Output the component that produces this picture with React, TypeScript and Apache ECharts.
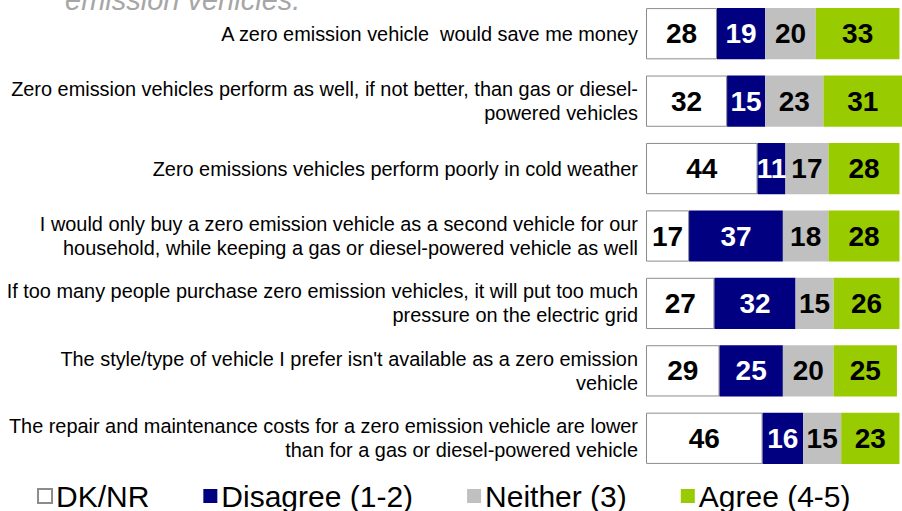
import React, { useEffect, useRef } from "react";
import * as echarts from "echarts";

const categories = [
  "A zero emission vehicle  would save me money",
  "Zero emission vehicles perform as well, if not better, than gas or diesel-\npowered vehicles",
  "Zero emissions vehicles perform poorly in cold weather",
  "I would only buy a zero emission vehicle as a second vehicle for our\nhousehold, while keeping a gas or diesel-powered vehicle as well",
  "If too many people purchase zero emission vehicles, it will put too much\npressure on the electric grid",
  "The style/type of vehicle I prefer isn't available as a zero emission\nvehicle",
  "The repair and maintenance costs for a zero emission vehicle are lower\nthan for a gas or diesel-powered vehicle",
];

const dknr = [28, 32, 44, 17, 27, 29, 46];
const disagree = [19, 15, 11, 37, 32, 25, 16];
const neither = [20, 23, 17, 18, 15, 20, 15];
const agree = [33, 31, 28, 28, 26, 25, 23];

const seriesNames = ["DK/NR", "Disagree (1-2)", "Neither (3)", "Agree (4-5)"];
const titleText = "emission vehicles.";

const FONT = '"Liberation Sans", Arial, sans-serif';

export default function App() {
  const ref = useRef<HTMLDivElement>(null);
  useEffect(() => {
    if (!ref.current) return;
    const chart = echarts.init(ref.current, null, { renderer: "svg" });
    const label = (color: string) => ({
      show: true,
      position: "inside" as const,
      color,
      fontSize: 28,
      fontWeight: "bold" as const,
      fontFamily: FONT,
    });
    chart.setOption({
      animation: false,
      backgroundColor: "#ffffff",
      textStyle: { fontFamily: FONT },
      grid: { left: 646, top: -6, width: 272.7, height: 478, containLabel: false },
      xAxis: { type: "value", min: 0, max: 101, show: false },
      yAxis: {
        type: "category",
        data: categories,
        inverse: true,
        axisLine: { show: false },
        axisTick: { show: false },
        splitLine: { show: false },
        axisLabel: {
          margin: 8,
          fontSize: 19.9,
          lineHeight: 24,
          color: "#000000",
          fontFamily: FONT,
          align: "right",
        },
      },
      legend: {
        left: 37,
        top: 481,
        padding: 0,
        itemGap: 54,
        itemWidth: 14,
        itemHeight: 14,
        icon: "rect",
        textStyle: { fontSize: 30, color: "#000000", fontFamily: FONT, padding: [0, 0, 0, -1] },
        data: seriesNames,
      },
      graphic: [
        {
          type: "text",
          left: 65,
          top: -15,
          style: {
            text: titleText,
            fontSize: 29,
            fontStyle: "italic",
            fontFamily: FONT,
            fill: "#a6a6a6",
          },
        },
      ],
      series: [
        {
          name: seriesNames[0],
          type: "bar",
          stack: "s",
          data: dknr,
          barCategoryGap: "24%",
          itemStyle: { color: "#ffffff", borderColor: "#8c8c8c", borderWidth: 1 },
          label: label("#000000"),
        },
        {
          name: seriesNames[1],
          type: "bar",
          stack: "s",
          data: disagree,
          barCategoryGap: "24%",
          itemStyle: { color: "#000080" },
          label: label("#ffffff"),
        },
        {
          name: seriesNames[2],
          type: "bar",
          stack: "s",
          data: neither,
          barCategoryGap: "24%",
          itemStyle: { color: "#c0c0c0" },
          label: label("#000000"),
        },
        {
          name: seriesNames[3],
          type: "bar",
          stack: "s",
          data: agree,
          barCategoryGap: "24%",
          itemStyle: { color: "#99cc00" },
          label: label("#000000"),
        },
      ],
    });
    return () => chart.dispose();
  }, []);
  return (
    <div
      ref={ref}
      style={{ position: "fixed", left: 0, top: 0, width: 902, height: 511 }}
    />
  );
}
